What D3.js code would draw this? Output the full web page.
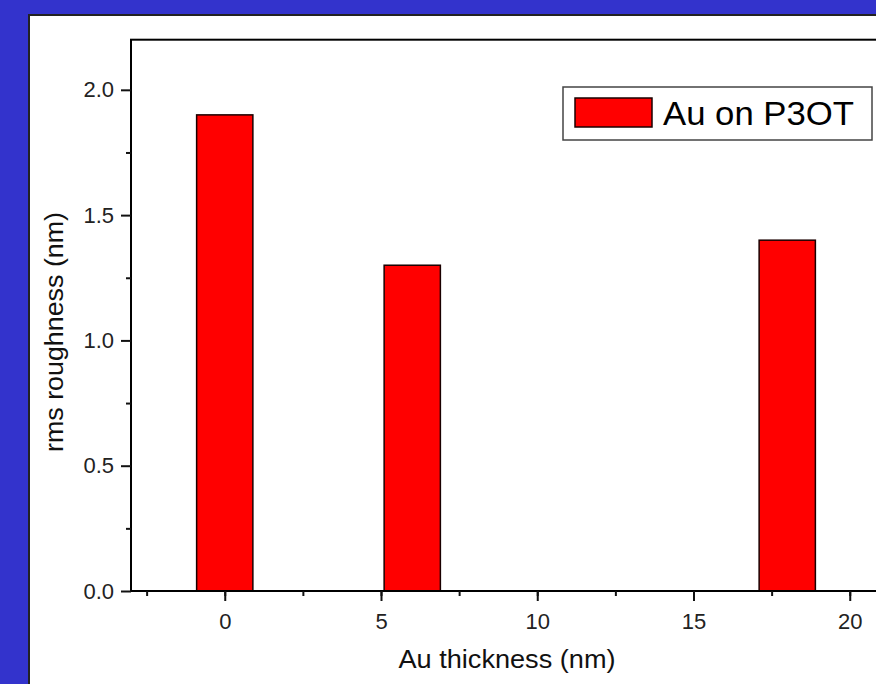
<!DOCTYPE html>
<html>
<head>
<meta charset="utf-8">
<script src="https://cdn.jsdelivr.net/npm/d3@7"></script>
<style>
  html, body { margin: 0; padding: 0; background: #3333cc; }
  svg { display: block; font-family: Arial, "Liberation Sans", sans-serif; }
</style>
</head>
<body>
<svg id="chart"></svg>
<script>
const thickness = [0, 6, 18];
const roughness = [1.9, 1.3, 1.4];
const seriesName = "Au on P3OT";
const xTicks = [0, 5, 10, 15, 20];
const yTicks = [0, 0.5, 1.0, 1.5, 2.0];

const width = 876;
const height = 684;
const svg = d3.select("#chart").attr("width", width).attr("height", height);

// blue slide background + white panel
svg.append("rect").attr("width", width).attr("height", height).attr("fill", "#3333cc");
svg.append("rect")
  .attr("x", 29).attr("y", 15)
  .attr("width", 900).attr("height", 700)
  .attr("fill", "#fff")
  .attr("stroke", "#222")
  .attr("stroke-width", 2);

const x = d3.scaleLinear().domain([-3, 22]).range([131, 912.25]);
const y = d3.scaleLinear().domain([0, 2.2]).range([591, 39.7]);
const barW = x(1.8) - x(0);

// bars
svg.selectAll("rect.bar")
  .data(thickness)
  .join("rect")
  .attr("class", "bar")
  .attr("x", (d) => x(d) - barW / 2)
  .attr("y", (d, i) => y(roughness[i]))
  .attr("width", barW)
  .attr("height", (d, i) => y(0) - y(roughness[i]))
  .attr("fill", "#ff0000")
  .attr("stroke", "#1a0000")
  .attr("stroke-width", 1.5);

// frame
svg.append("rect")
  .attr("x", x(-3)).attr("y", y(2.2))
  .attr("width", x(22) - x(-3)).attr("height", y(0) - y(2.2))
  .attr("fill", "none")
  .attr("stroke", "#000")
  .attr("stroke-width", 2);

// x axis
const xMinor = svg.append("g").attr("transform", `translate(0,${y(0)})`);
xMinor.call(d3.axisBottom(x).tickValues(d3.range(-2.5, 22, 2.5)).tickSize(5).tickFormat(""));
xMinor.select(".domain").remove();
const xMajor = svg.append("g").attr("transform", `translate(0,${y(0)})`);
xMajor.call(d3.axisBottom(x).tickValues(xTicks).tickSize(10).tickPadding(12).tickFormat(d3.format("d")));
xMajor.select(".domain").remove();
xMajor.attr("font-size", 22).attr("font-family", "Arial, 'Liberation Sans', sans-serif");
xMajor.selectAll("text").attr("fill", "#222");

// y axis
const yMinor = svg.append("g").attr("transform", `translate(${x(-3)},0)`);
yMinor.call(d3.axisLeft(y).tickValues(d3.range(0.25, 2.2, 0.5)).tickSize(5).tickFormat(""));
yMinor.select(".domain").remove();
const yMajor = svg.append("g").attr("transform", `translate(${x(-3)},0)`);
yMajor.call(d3.axisLeft(y).tickValues(yTicks).tickSize(10).tickPadding(7).tickFormat(d3.format(".1f")));
yMajor.select(".domain").remove();
yMajor.attr("font-size", 22).attr("font-family", "Arial, 'Liberation Sans', sans-serif");
yMajor.selectAll("text").attr("fill", "#222");
svg.selectAll(".tick line").attr("stroke-width", 2).attr("stroke", "#111");

// axis titles
svg.append("text")
  .attr("x", 507).attr("y", 668)
  .attr("text-anchor", "middle")
  .attr("font-size", 25)
  .attr("textLength", 217)
  .attr("lengthAdjust", "spacingAndGlyphs")
  .attr("fill", "#111")
  .text("Au thickness (nm)");

svg.append("text")
  .attr("transform", "translate(63,332) rotate(-90)")
  .attr("text-anchor", "middle")
  .attr("font-size", 25)
  .attr("textLength", 240)
  .attr("lengthAdjust", "spacingAndGlyphs")
  .attr("fill", "#111")
  .text("rms roughness (nm)");

// legend
const legend = svg.append("g");
legend.append("rect")
  .attr("x", 563).attr("y", 87).attr("width", 309).attr("height", 53)
  .attr("fill", "#fff").attr("stroke", "#444").attr("stroke-width", 1.5);
legend.append("rect")
  .attr("x", 575).attr("y", 98).attr("width", 77).attr("height", 29)
  .attr("fill", "#ff0000").attr("stroke", "#1a0000").attr("stroke-width", 1.5);
legend.append("text")
  .attr("x", 663).attr("y", 125)
  .attr("font-size", 33)
  .attr("textLength", 191)
  .attr("lengthAdjust", "spacingAndGlyphs")
  .attr("fill", "#000")
  .text(seriesName);
</script>
</body>
</html>
